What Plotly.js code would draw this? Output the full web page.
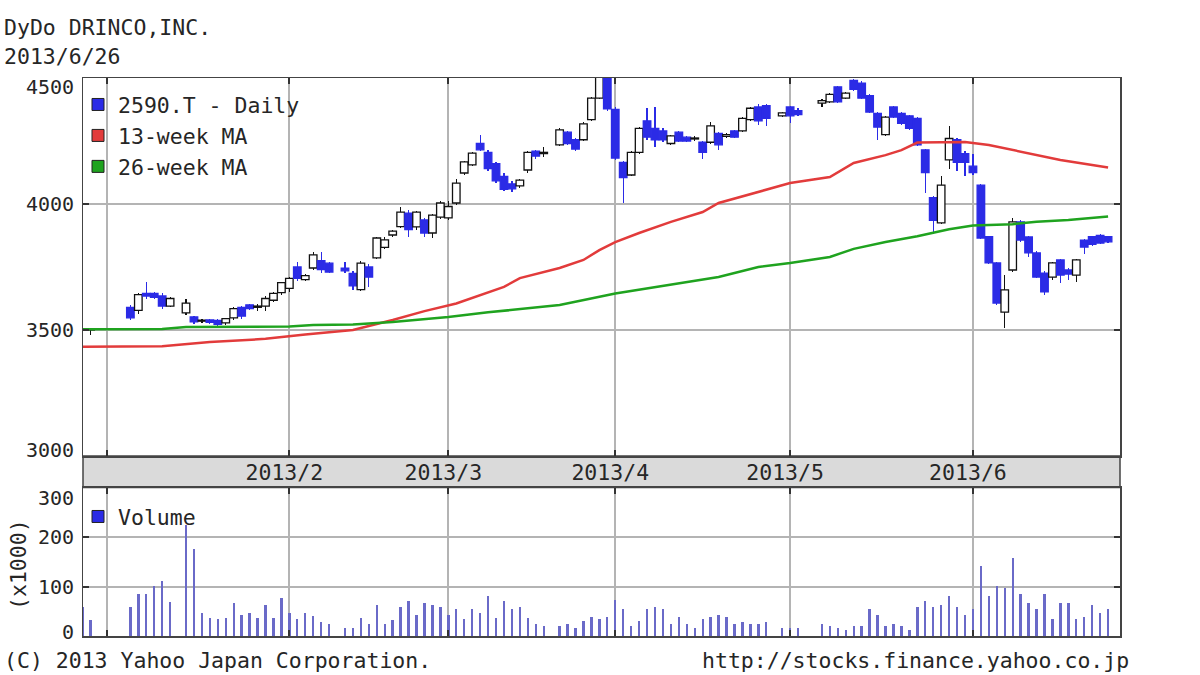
<!DOCTYPE html>
<html>
<head>
<meta charset="utf-8">
<script src="https://cdn.plot.ly/plotly-3.0.1.min.js"></script>
<style>html,body{margin:0;padding:0;background:#fff;}#chart{width:1200px;height:675px;}</style>
</head>
<body>
<div id="chart"></div>
<script>
// ---------- DATA ----------
const dates = [
 '2012-12-27','2012-12-28',
 '2013-01-04','2013-01-07','2013-01-08','2013-01-09','2013-01-10','2013-01-11','2013-01-15','2013-01-16','2013-01-17','2013-01-18',
 '2013-01-21','2013-01-22','2013-01-23','2013-01-24','2013-01-25','2013-01-28','2013-01-29','2013-01-30','2013-01-31',
 '2013-02-01','2013-02-04','2013-02-05','2013-02-06','2013-02-07','2013-02-08','2013-02-12','2013-02-13','2013-02-14','2013-02-15',
 '2013-02-18','2013-02-19','2013-02-20','2013-02-21','2013-02-22','2013-02-25','2013-02-26','2013-02-27','2013-02-28',
 '2013-03-01','2013-03-04','2013-03-05','2013-03-06','2013-03-07','2013-03-08','2013-03-11','2013-03-12','2013-03-13','2013-03-14',
 '2013-03-15','2013-03-18','2013-03-19','2013-03-21','2013-03-22','2013-03-25','2013-03-26','2013-03-27','2013-03-28','2013-03-29',
 '2013-04-01','2013-04-02','2013-04-03','2013-04-04','2013-04-05','2013-04-08','2013-04-09','2013-04-10','2013-04-11','2013-04-12',
 '2013-04-15','2013-04-16','2013-04-17','2013-04-18','2013-04-19','2013-04-22','2013-04-23','2013-04-24','2013-04-25','2013-04-26','2013-04-30',
 '2013-05-01','2013-05-02','2013-05-07','2013-05-08','2013-05-09','2013-05-10','2013-05-13','2013-05-14','2013-05-15','2013-05-16',
 '2013-05-17','2013-05-20','2013-05-21','2013-05-22','2013-05-23','2013-05-24','2013-05-27','2013-05-28','2013-05-29','2013-05-30','2013-05-31',
 '2013-06-03','2013-06-04','2013-06-05','2013-06-06','2013-06-07','2013-06-10','2013-06-11','2013-06-12','2013-06-13','2013-06-14',
 '2013-06-17','2013-06-18','2013-06-19','2013-06-20','2013-06-21','2013-06-24','2013-06-25','2013-06-26'
];
const opens = [
 3500,3500,
 3590,3578,3645,3645,3635,3595,3568,3552,3535,3540,
 3538,3528,3548,3590,3600,3590,3595,3618,3648,
 3665,3750,3700,3746,3775,3765,3745,3725,3660,3750,
 3786,3828,3877,3910,3964,3909,3937,3885,3948,
 3945,4004,4123,4155,4240,4205,4160,4110,4080,4072,
 4135,4210,4200,4235,4285,4255,4255,4335,4420,4505,
 4375,4165,4115,4205,4330,4300,4290,4240,4285,4265,
 4258,4245,4245,4280,4268,4290,4290,4335,4385,4390,4350,
 4385,4370,4400,4405,4465,4420,4490,4480,4430,4360,
 4275,4385,4360,4350,4340,4215,4025,3925,4175,4255,4200,
 4150,4075,3870,3766,3571,3738,3929,3869,3806,3726,
 3710,3778,3738,3718,3857,3870,3875,3870
];
const highs = [
 3510,3505,
 3598,3645,3690,3652,3645,3630,3625,3556,3542,3545,
 3545,3548,3590,3595,3605,3605,3635,3650,3692,
 3712,3770,3722,3810,3810,3770,3770,3735,3775,3760,
 3870,3870,3897,3988,3975,3972,3945,3962,4010,
 4010,4100,4172,4207,4275,4215,4165,4125,4090,4100,
 4210,4215,4225,4300,4290,4262,4325,4425,4540,4540,
 4385,4172,4210,4305,4380,4385,4300,4275,4290,4270,
 4268,4250,4325,4285,4280,4295,4345,4385,4395,4395,4365,
 4390,4380,4415,4440,4470,4445,4495,4490,4435,4365,
 4350,4390,4365,4355,4345,4220,4030,4110,4310,4260,4210,
 4200,4080,3875,3770,3718,3944,3935,3875,3812,3735,
 3770,3782,3745,3782,3860,3875,3880,3875
];
const lows = [
 3490,3482,
 3540,3565,3625,3622,3585,3590,3560,3525,3528,3522,
 3512,3520,3540,3545,3580,3575,3575,3610,3640,
 3650,3695,3695,3740,3725,3725,3725,3660,3655,3672,
 3780,3822,3870,3905,3869,3895,3870,3865,3940,
 3935,3995,4115,4150,4210,4130,4085,4050,4048,4065,
 4125,4180,4188,4230,4235,4210,4250,4330,4415,4370,
 4175,4005,4110,4200,4255,4225,4245,4235,4245,4245,
 4250,4180,4240,4215,4262,4260,4285,4330,4315,4310,4345,
 4320,4350,4385,4400,4400,4415,4450,4415,4360,4255,
 4270,4340,4315,4295,4230,4045,3880,3920,4140,4130,4110,
 4115,3860,3760,3600,3508,3730,3850,3790,3705,3640,
 3700,3686,3700,3690,3800,3835,3840,3845
];
const closes = [
 3505,3503,
 3548,3640,3635,3630,3595,3625,3607,3532,3538,3530,
 3522,3545,3585,3555,3585,3595,3625,3645,3688,
 3705,3705,3716,3798,3740,3730,3735,3675,3765,3710,
 3865,3858,3892,3968,3898,3968,3885,3956,4004,
 3990,4083,4167,4202,4215,4140,4092,4058,4060,4095,
 4205,4190,4205,4294,4240,4218,4318,4420,4505,4378,
 4182,4105,4205,4300,4265,4255,4255,4270,4250,4250,
 4262,4205,4310,4235,4275,4265,4340,4380,4330,4340,4362,
 4350,4355,4410,4435,4405,4440,4455,4420,4365,4305,
 4345,4345,4320,4300,4235,4125,3935,4075,4260,4165,4165,
 4125,3865,3766,3607,3659,3929,3857,3806,3710,3651,
 3766,3718,3722,3778,3829,3840,3845,3850
];
const volumes = [
 58,32,
 59,85,85,102,112,68,225,176,46,37,
 34,37,67,42,46,37,63,37,76,
 46,34,46,41,29,25,16,16,37,25,
 63,25,33,59,71,42,67,63,59,
 42,54,34,54,46,80,37,71,54,59,
 37,25,20,20,25,16,30,38,34,39,
 73,54,20,31,54,59,54,25,39,25,
 16,34,39,42,39,25,29,25,25,29,16,
 16,16,25,20,16,12,20,20,54,42,
 20,25,20,12,59,71,59,63,80,59,42,
 54,141,80,102,97,158,85,67,54,85,
 34,67,67,34,39,63,46,54
];
// moving averages at sample dates
const ma13Dates = ['2012-12-27','2013-01-10','2013-01-18','2013-01-29','2013-02-05','2013-02-08','2013-02-13','2013-02-20','2013-02-26',
 '2013-03-04','2013-03-07','2013-03-12','2013-03-14','2013-03-21','2013-03-26','2013-03-28','2013-04-01','2013-04-04','2013-04-10',
 '2013-04-16','2013-04-18','2013-04-25','2013-05-01','2013-05-08','2013-05-13','2013-05-17','2013-05-21','2013-05-23','2013-05-31',
 '2013-06-05','2013-06-10','2013-06-18','2013-06-26'];
const ma13 = [3434,3436,3452,3465,3482,3490,3500,3540,3575,
 3605,3639,3671,3706,3746,3778,3817,3849,3885,3929,
 3968,4004,4048,4083,4107,4163,4194,4214,4244,4246,
 4234,4214,4175,4145];
const ma26Dates = ['2012-12-27','2013-01-10','2013-01-15','2013-02-01','2013-02-06','2013-02-13','2013-02-20','2013-03-01','2013-03-08',
 '2013-03-21','2013-04-01','2013-04-10','2013-04-18','2013-04-25','2013-05-01','2013-05-08','2013-05-13','2013-05-17','2013-05-23',
 '2013-05-29','2013-06-03','2013-06-10','2013-06-13','2013-06-19','2013-06-26'];
const ma26 = [3503,3504,3512,3514,3520,3522,3532,3552,3570,
 3599,3645,3679,3710,3750,3766,3790,3822,3849,3872,
 3900,3915,3920,3930,3937,3950];
const monthTickDates = ['2013-01-01','2013-02-01','2013-03-01','2013-04-01','2013-05-01','2013-06-03'];
const monthTickLabels = ['','2013/2','2013/3','2013/4','2013/5','2013/6'];
const priceTicks = [4500,4000,3500,3000];
const volumeTicks = [300,200,100,0];

// ---------- helpers ----------
function wd(s){ // weekday index relative to 2013-01-01 (weekends removed)
  const day=86400000, b=Date.UTC(2013,0,1), t=Date.parse(s+'T00:00:00Z');
  let n=0;
  if(t>=b){ for(let u=b+day;u<=t;u+=day){const w=new Date(u).getUTCDay(); if(w!==0&&w!==6) n++;} }
  else { for(let u=b-day;u>=t;u-=day){const w=new Date(u).getUTCDay(); if(w!==0&&w!==6) n--;} }
  return n;
}
const xi = dates.map(wd);
const tickIdx = monthTickDates.map(wd);

const FONT = 'DejaVu Sans Mono';
const TXT = '#262626';
const BLUE = '#2b2be6';
const H=675, W=1200;
const py = v => 1 - v/H, px = v => v/W;

const up = closes.map((c,i)=>c>=opens[i]);
const bodyBase = closes.map((c,i)=>Math.min(c,opens[i]));
const bodyLen = closes.map((c,i)=>Math.max(Math.abs(c-opens[i]),4));
const candleCol = up.map(u=>u?'#111111':BLUE);
const fillCol = up.map(u=>u?'#ffffff':BLUE);

const traces = [
 {type:'bar', x:xi, base:lows, y:highs.map((h,i)=>h-lows[i]), width:0.15, marker:{color:candleCol, line:{width:0}},
  xaxis:'x', yaxis:'y', showlegend:false, hoverinfo:'skip'},
 {type:'bar', x:xi, base:bodyBase, y:bodyLen, width:0.95, marker:{color:fillCol, line:{color:candleCol, width:1.3}},
  xaxis:'x', yaxis:'y', showlegend:false, hoverinfo:'skip'},
 {type:'scatter', mode:'lines', x:ma13Dates.map(wd), y:ma13, line:{color:'#e23b3b', width:2.5}, xaxis:'x', yaxis:'y', showlegend:false, hoverinfo:'skip'},
 {type:'scatter', mode:'lines', x:ma26Dates.map(wd), y:ma26, line:{color:'#1fa31f', width:2.5}, xaxis:'x', yaxis:'y', showlegend:false, hoverinfo:'skip'},
 {type:'bar', x:xi, y:volumes, width:0.3, marker:{color:'#6a6ac8', line:{width:0}}, xaxis:'x2', yaxis:'y2', showlegend:false, hoverinfo:'skip'},
 // legend entries
 {type:'scatter', mode:'markers', x:[null], y:[null], name:'2590.T - Daily', legendgroup:'a', marker:{symbol:'square', size:12, color:BLUE, line:{color:'#222',width:1}}, xaxis:'x', yaxis:'y'},
 {type:'scatter', mode:'markers', x:[null], y:[null], name:'13-week MA', legendgroup:'b', marker:{symbol:'square', size:12, color:'#e23b3b', line:{color:'#222',width:1}}, xaxis:'x', yaxis:'y'},
 {type:'scatter', mode:'markers', x:[null], y:[null], name:'26-week MA', legendgroup:'c', marker:{symbol:'square', size:12, color:'#1fa31f', line:{color:'#222',width:1}}, xaxis:'x', yaxis:'y'},
 {type:'scatter', mode:'markers', x:[null], y:[null], name:'Volume', legend:'legend2', marker:{symbol:'square', size:12, color:BLUE, line:{color:'#222',width:1}}, xaxis:'x2', yaxis:'y2'}
];

const xr = [-2.96, 127.5];
const gridC = '#b4b4b4';
const axisCommon = {showline:true, mirror:'ticks', linecolor:'#444', linewidth:1.5, ticks:'inside', ticklen:6, tickcolor:'#333', tickwidth:2,
  showgrid:true, gridcolor:gridC, gridwidth:2, zeroline:false, fixedrange:true};

const annotations = [];
priceTicks.forEach(v=>annotations.push({xref:'paper', yref:'y', x:px(76), y:v, xanchor:'right', yanchor:'middle', showarrow:false,
  text:String(v), yshift: v===4500?-9:(v===3000?6:0), font:{family:FONT, size:20, color:TXT}}));
volumeTicks.forEach(v=>annotations.push({xref:'paper', yref:'y2', x:px(76), y:v, xanchor:'right', yanchor:'middle', showarrow:false,
  text:String(v), yshift: v===300?-10:(v===0?4:0), font:{family:FONT, size:20, color:TXT}}));
annotations.push({xref:'paper', yref:'paper', x:px(2), y:py(28), xanchor:'left', yanchor:'middle', showarrow:false, text:'DyDo DRINCO,INC.', font:{family:FONT, size:21.5, color:TXT}});
annotations.push({xref:'paper', yref:'paper', x:px(2), y:py(57), xanchor:'left', yanchor:'middle', showarrow:false, text:'2013/6/26', font:{family:FONT, size:21.5, color:TXT}});
annotations.push({xref:'paper', yref:'paper', x:px(2), y:py(660), xanchor:'left', yanchor:'middle', showarrow:false, text:'(C) 2013 Yahoo Japan Corporation.', font:{family:FONT, size:21.5, color:TXT}});
annotations.push({xref:'paper', yref:'paper', x:px(1131), y:py(660), xanchor:'right', yanchor:'middle', showarrow:false, text:'http://stocks.finance.yahoo.co.jp', font:{family:FONT, size:21.5, color:TXT}});
annotations.push({xref:'paper', yref:'paper', x:px(18), y:py(565), xanchor:'center', yanchor:'middle', showarrow:false, textangle:-90, text:'(x1000)', font:{family:FONT, size:21.5, color:TXT}});

const layout = {
  width:W, height:H, margin:{l:0,r:0,t:0,b:0}, paper_bgcolor:'#fff', plot_bgcolor:'#fff',
  barmode:'overlay', bargap:0, showlegend:true,
  xaxis: Object.assign({}, axisCommon, {domain:[px(83), px(1120)], range:xr, tickvals:tickIdx, ticktext:monthTickLabels,
     showticklabels:true, tickfont:{family:FONT, size:21.5, color:TXT}, ticklabelstandoff:-3, ticklabelshift:-5, anchor:'y'}),
  yaxis: Object.assign({}, axisCommon, {domain:[py(456), py(78)], range:[3000,4500], tickvals:[3500,4000], showticklabels:false, anchor:'x'}),
  xaxis2: Object.assign({}, axisCommon, {domain:[px(83), px(1120)], range:xr, tickvals:tickIdx, showticklabels:false, anchor:'y2'}),
  yaxis2: Object.assign({}, axisCommon, {domain:[py(636), py(487.5)], range:[0,300], tickvals:[100,200], showticklabels:false, anchor:'x2'}),
  legend:{x:px(78), y:py(84), xanchor:'left', yanchor:'top', bgcolor:'rgba(0,0,0,0)', borderwidth:0, tracegroupgap:6,
     font:{family:FONT, size:21.5, color:TXT}, itemwidth:30, traceorder:'normal'},
  legend2:{x:px(78), y:py(496), xanchor:'left', yanchor:'top', bgcolor:'rgba(0,0,0,0)', borderwidth:0,
     font:{family:FONT, size:21.5, color:TXT}, itemwidth:30},
  shapes:[{type:'rect', xref:'paper', yref:'paper', x0:px(83), x1:px(1120), y0:py(487.5), y1:py(456), fillcolor:'#dadada', line:{color:'#444', width:1.5}, layer:'below'}],
  annotations: annotations
};

Plotly.newPlot('chart', traces, layout, {staticPlot:true, displayModeBar:false});
</script>
</body>
</html>
